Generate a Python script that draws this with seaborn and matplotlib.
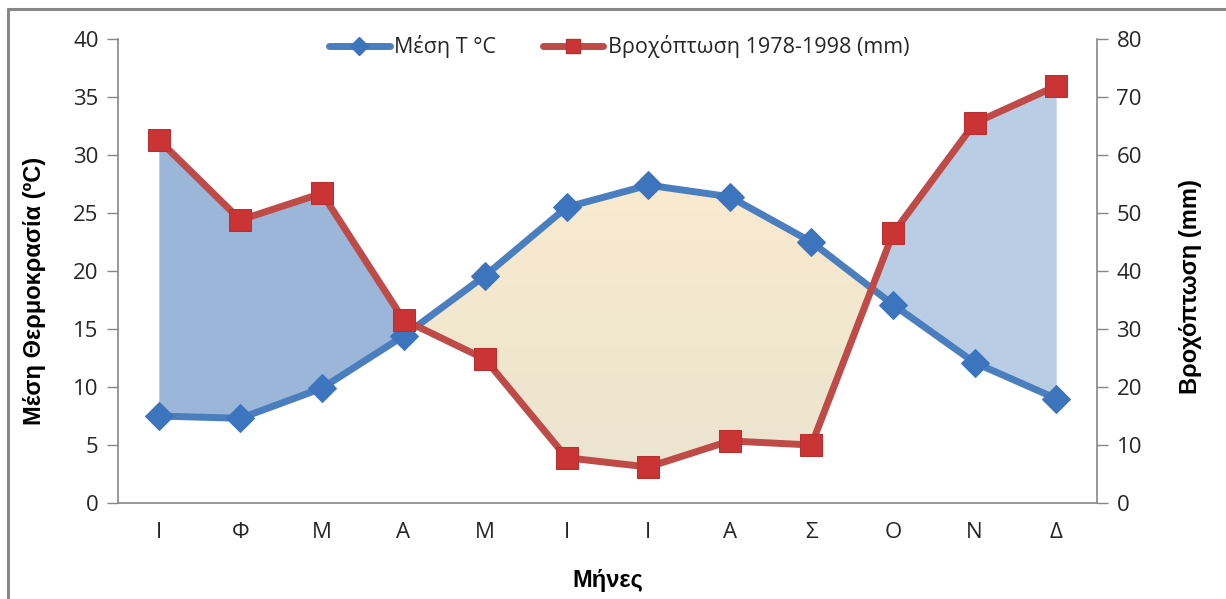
import numpy as np
import pandas as pd
import matplotlib
matplotlib.use("Agg")
import matplotlib.pyplot as plt
from matplotlib.lines import Line2D
from matplotlib.colors import LinearSegmentedColormap
import seaborn as sns

months = ["Ι", "Φ", "Μ", "Α", "Μ", "Ι", "Ι", "Α", "Σ", "Ο", "Ν", "Δ"]
temperature = [7.5, 7.3, 9.9, 14.4, 19.6, 25.5, 27.4, 26.4, 22.5, 17.1, 12.1, 9.0]
rainfall = [62.6, 48.8, 53.4, 31.6, 24.8, 7.8, 6.2, 10.7, 10.0, 46.5, 65.5, 71.9]
temp_ticks = [0, 5, 10, 15, 20, 25, 30, 35, 40]
rain_ticks = [0, 10, 20, 30, 40, 50, 60, 70, 80]

sns.set_theme(style="white")
plt.rcParams['font.family'] = ['Open Sans', 'DejaVu Sans']

df = pd.DataFrame({"pos": np.arange(len(months)), "T": temperature, "P": rainfall})

BLUE = "#4A7EBF"
BLUE_M = "#3C74BE"
RED = "#BF4B48"
RED_M = "#CB3434"
SPINE = "#868686"
TXT = "#262626"

fig = plt.figure(figsize=(12.26, 5.99), dpi=100)
ax = fig.add_axes([118/1226, 1-503/599, 979/1226, 464/599])
ax2 = ax.twinx()

x = df["pos"].to_numpy(dtype=float)
T = df["T"].to_numpy()
Pscaled = df["P"].to_numpy() * (temp_ticks[-1] / rain_ticks[-1])

# wet periods (blue)
wet = Pscaled >= T
ax.fill_between(x, T, Pscaled, where=wet & (x <= 5), interpolate=True,
                color="#9BB6D9", lw=0, zorder=1)
ax.fill_between(x, T, Pscaled, where=wet & (x >= 6), interpolate=True,
                color="#B9CDE5", lw=0, zorder=1)
# dry period (beige gradient)
dry = ax.fill_between(x, T, Pscaled, where=~wet, interpolate=True,
                      color="none", lw=0, zorder=1)
grad = np.linspace(0, 1, 256).reshape(-1, 1)
cmap = LinearSegmentedColormap.from_list("beige", ["#E9E3CE", "#FBEBD0"])
im = ax.imshow(grad, extent=[-0.5, 11.5, 0, 30], origin="lower", aspect="auto",
               cmap=cmap, zorder=1)
for p in dry.get_paths():
    im.set_clip_path(p, transform=ax.transData)

sns.lineplot(data=df, x="pos", y="T", ax=ax, color=BLUE, lw=5, marker="D",
             markersize=14, markerfacecolor=BLUE_M, markeredgecolor=BLUE_M,
             sort=False, zorder=3, legend=False)
sns.lineplot(data=df, x="pos", y="P", ax=ax2, color=RED, lw=5, marker="s",
             markersize=15.5, markerfacecolor=RED_M, markeredgecolor="#B83030",
             sort=False, zorder=3, legend=False)

ax.set_xlim(-0.5, len(months) - 0.5)
ax.set_ylim(temp_ticks[0], temp_ticks[-1])
ax2.set_ylim(rain_ticks[0], rain_ticks[-1])
ax.set_yticks(temp_ticks)
ax2.set_yticks(rain_ticks)
ax.set_xticks(x)
ax.set_xticklabels(months)
ax.set_xticks(np.arange(-0.5, len(months)), minor=True)
ax.tick_params(axis="x", which="major", length=0, pad=14, labelsize=16, labelcolor=TXT)
ax.tick_params(axis="x", which="minor", length=8, width=1, color=SPINE, direction="out")
ax.tick_params(axis="y", length=8, width=1, color=SPINE, direction="out", pad=6,
               labelsize=16, labelcolor=TXT, left=True)
ax2.tick_params(axis="y", length=8, width=1, color=SPINE, direction="out", pad=6,
                labelsize=16, labelcolor=TXT, right=True)

for a in (ax, ax2):
    a.grid(False)
    a.spines["top"].set_visible(False)
    for s in ("left", "right", "bottom"):
        a.spines[s].set_color(SPINE)
        a.spines[s].set_linewidth(1.2)
ax.spines["right"].set_visible(False)
ax2.spines["left"].set_visible(False)
ax2.spines["bottom"].set_visible(False)
ax.patch.set_alpha(0)

lab_font = dict(family=["Liberation Sans", "DejaVu Sans"], weight="bold", size=17, color="black")
ax.set_xlabel("Μήνες", **lab_font)
ax.set_ylabel("Μέση Θερμοκρασία (ºC)", **lab_font)
ax2.set_ylabel("Βροχόπτωση (mm)", **lab_font)
ax.xaxis.set_label_coords(0.5, -0.142)
ax.yaxis.set_label_coords(-0.074, 0.457)
ax2.yaxis.set_label_coords(1.084, 0.466)

handles = [
    Line2D([], [], color=BLUE, lw=5, marker="D", markersize=9,
           markerfacecolor=BLUE_M, markeredgecolor=BLUE_M),
    Line2D([], [], color=RED, lw=5, marker="s", markersize=10,
           markerfacecolor=RED_M, markeredgecolor="#B83030"),
]
leg = ax2.legend(handles, ["Μέση T °C", "Βροχόπτωση 1978-1998 (mm)"],
                 loc="center", bbox_to_anchor=(0.512, 0.983), ncol=2, frameon=False,
                 fontsize=15.5, handlelength=2.8, handletextpad=0.2, columnspacing=2.2)
for t in leg.get_texts():
    t.set_color(TXT)

# outer frame (top and left edges)
fig.add_artist(Line2D([8/1226, 1], [1-9/599, 1-9/599], color="#888888", lw=2.2,
                      transform=fig.transFigure))
fig.add_artist(Line2D([8/1226, 8/1226], [0, 1-9/599], color="#888888", lw=2.2,
                      transform=fig.transFigure))

fig.savefig("out.png", dpi=100)
